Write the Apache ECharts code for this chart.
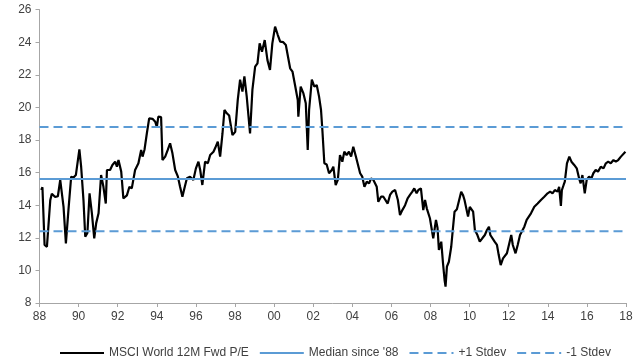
<!DOCTYPE html>
<html>
<head>
<meta charset="utf-8">
<script src="https://cdn.jsdelivr.net/npm/echarts@6/dist/echarts.min.js"></script>
<style>
html,body{margin:0;padding:0;background:#fff;}
#chart{width:640px;height:360px;}
</style>
</head>
<body>
<div id="chart"></div>
<script>
// Decimal year of each reading
var years = [
1988.09,1988.15,1988.26,1988.38,1988.55,1988.63,1988.80,1988.94,1989.06,1989.15,1989.23,1989.35,1989.48,1989.62,1989.74,1989.86,1989.96,
1990.04,1990.13,1990.25,1990.34,1990.45,1990.56,1990.68,1990.80,1990.90,1991.02,1991.15,1991.27,1991.39,1991.45,1991.61,1991.73,1991.87,1991.96,
1992.04,1992.18,1992.29,1992.47,1992.60,1992.72,1992.89,1993.06,1993.20,1993.27,1993.37,1993.49,1993.61,1993.78,1993.92,1994.00,1994.08,1994.22,
1994.29,1994.43,1994.56,1994.68,1994.80,1994.94,1995.08,1995.19,1995.31,1995.41,1995.54,1995.70,1995.87,1996.00,1996.13,1996.22,1996.33,1996.47,
1996.61,1996.73,1996.90,1996.98,1997.12,1997.24,1997.36,1997.46,1997.58,1997.70,1997.80,1997.87,1998.01,1998.14,1998.26,1998.38,1998.48,1998.60,
1998.77,1998.89,1999.03,1999.15,1999.26,1999.38,1999.52,1999.66,1999.79,1999.91,2000.05,2000.19,2000.31,2000.47,2000.60,2000.70,2000.82,2000.94,
2001.07,2001.21,2001.24,2001.36,2001.50,2001.62,2001.72,2001.79,2001.93,2002.06,2002.18,2002.30,2002.40,2002.47,2002.57,2002.69,2002.81,2002.95,
2003.03,2003.15,2003.26,2003.37,2003.49,2003.59,2003.71,2003.83,2003.94,2004.05,2004.18,2004.28,2004.40,2004.51,2004.62,2004.74,2004.86,2004.96,
2005.08,2005.16,2005.25,2005.33,2005.47,2005.59,2005.67,2005.81,2005.93,2006.05,2006.19,2006.33,2006.44,2006.56,2006.70,2006.83,2006.95,2007.07,
2007.17,2007.29,2007.38,2007.51,2007.63,2007.72,2007.81,2007.97,2008.14,2008.28,2008.36,2008.43,2008.55,2008.64,2008.72,2008.77,2008.84,2008.94,
2009.06,2009.14,2009.23,2009.35,2009.45,2009.57,2009.66,2009.74,2009.83,2009.92,2010.01,2010.09,2010.18,2010.27,2010.40,2010.52,2010.65,2010.78,
2010.89,2010.99,2011.06,2011.16,2011.28,2011.40,2011.49,2011.59,2011.71,2011.79,2011.91,2012.01,2012.13,2012.21,2012.35,2012.46,2012.58,2012.68,
2012.80,2012.92,2013.14,2013.31,2013.48,2013.65,2013.82,2013.99,2014.12,2014.24,2014.36,2014.50,2014.58,2014.67,2014.72,2014.81,2014.87,2014.98,
2015.10,2015.21,2015.35,2015.48,2015.60,2015.68,2015.77,2015.89,2015.99,2016.11,2016.23,2016.33,2016.45,2016.57,2016.71,2016.85,2016.97,2017.09,
2017.22,2017.36,2017.48,2017.60,2017.74,2017.83,2017.97
];
// MSCI World 12M forward P/E readings
var pe = [
14.93,15.10,11.56,11.45,14.30,14.70,14.50,14.55,15.55,15.45,13.90,11.66,13.70,15.75,15.70,15.85,15.85,
17.43,16.36,14.30,12.07,12.30,14.73,13.50,11.97,12.90,13.50,15.85,15.13,14.10,16.16,16.16,16.47,16.67,16.36,
16.77,16.06,14.42,14.60,15.13,15.03,16.16,16.57,17.39,16.98,17.40,18.40,19.33,19.30,19.12,18.80,19.43,19.40,
16.77,16.98,17.39,17.80,17.18,16.16,15.75,15.13,14.52,15.03,15.65,15.75,15.55,16.26,16.67,16.16,15.24,16.67,
16.57,17.08,17.28,17.49,17.90,16.98,18.40,19.84,19.64,19.50,19.53,18.30,18.50,20.45,21.70,20.97,21.90,20.66,
18.40,21.07,22.50,22.70,23.93,23.42,24.13,22.90,22.30,23.93,24.95,24.44,24.03,24.00,23.83,23.72,22.40,22.20,
21.37,20.45,19.43,21.27,20.86,20.25,17.39,19.84,21.70,21.27,21.37,20.66,19.84,18.60,16.57,16.50,15.96,16.16,
16.36,15.24,15.55,17.08,16.67,17.28,17.08,17.28,16.98,17.59,17.00,16.98,15.96,15.75,15.13,15.44,15.34,15.65,
15.55,15.65,15.13,14.21,14.52,14.52,14.42,14.10,14.63,14.83,14.93,14.32,13.40,13.70,14.00,14.42,14.63,14.83,
15.03,14.73,14.93,15.03,13.70,14.32,13.81,13.20,11.97,13.10,12.60,11.25,11.76,10.44,9.41,9.00,10.23,10.53,
11.45,12.48,13.60,13.75,13.70,14.83,14.63,14.32,14.32,13.30,13.90,13.81,13.60,12.48,12.17,11.76,11.97,12.17,
12.48,12.68,12.17,12.07,11.76,11.56,10.94,10.33,10.74,10.85,11.05,11.56,12.17,11.56,11.05,11.56,12.17,12.07,
12.68,13.10,13.50,13.90,14.10,14.32,14.52,14.73,14.83,14.73,14.93,14.83,15.13,13.95,14.93,15.24,15.44,16.57,
16.98,16.67,16.47,16.26,15.65,15.34,15.85,14.73,15.55,15.75,15.65,15.96,16.16,16.06,16.36,16.26,16.57,16.67,
16.57,16.77,16.67,16.77,16.98,17.08,17.28
];
var medianSince88 = 15.6;
var plusOneStdev = 18.8;
var minusOneStdev = 12.4;
var xStart = 1988, xEnd = 2018;
var yTicks = [8,10,12,14,16,18,20,22,24,26];

var seriesNames = ['MSCI World 12M Fwd P/E', "Median since '88", '+1 Stdev', '-1 Stdev'];

var peData = years.map(function(y,i){ return [y, pe[i]]; });
function flat(v){ return [[xStart, v],[xEnd, v]]; }

var blue = '#5B9BD5';
var chart = echarts.init(document.getElementById('chart'), null, {renderer:'canvas'});
chart.setOption({
  animation:false,
  backgroundColor:'#fff',
  textStyle:{fontFamily:'Liberation Sans, Arial, sans-serif'},
  grid:{left:39.5, right:14, top:9.6, bottom:57, containLabel:false},
  legend:{
    top:342, left:54,
    itemWidth:44, itemHeight:10, itemGap:10,
    itemStyle:{color:'transparent', borderColor:'transparent', borderWidth:0, opacity:0},
    textStyle:{fontSize:12, color:'#404040', fontFamily:'Liberation Sans, Arial, sans-serif'},
    data:seriesNames
  },
  xAxis:{
    type:'value', min:xStart, max:xEnd, interval:2,
    axisLine:{show:true, lineStyle:{color:'#a6a6a6', width:1}},
    axisTick:{show:true, length:4, lineStyle:{color:'#a6a6a6'}},
    splitLine:{show:false},
    axisLabel:{fontSize:12, color:'#404040', margin:8,
      formatter:function(v){ var s = String(Math.round(v)%100); return s.length<2?'0'+s:s; }}
  },
  yAxis:{
    type:'value', min:yTicks[0], max:yTicks[yTicks.length-1], interval:2,
    axisLine:{show:true, lineStyle:{color:'#a6a6a6', width:1}},
    axisTick:{show:true, length:4, lineStyle:{color:'#a6a6a6'}},
    splitLine:{show:false},
    axisLabel:{fontSize:12, color:'#404040', margin:8}
  },
  series:[
    {name:seriesNames[0], type:'line', data:peData, symbol:'none', showSymbol:false,
     lineStyle:{color:'#000', width:2.2}, itemStyle:{color:'#000'}, z:2},
    {name:seriesNames[1], type:'line', data:flat(medianSince88), symbol:'none', showSymbol:false,
     lineStyle:{color:blue, width:2}, itemStyle:{color:blue}, z:3},
    {name:seriesNames[2], type:'line', data:flat(plusOneStdev), symbol:'none', showSymbol:false,
     lineStyle:{color:blue, width:2, type:[9,5]}, itemStyle:{color:blue}, z:3},
    {name:seriesNames[3], type:'line', data:flat(minusOneStdev), symbol:'none', showSymbol:false,
     lineStyle:{color:blue, width:2, type:[9,5]}, itemStyle:{color:blue}, z:3}
  ]
});
</script>
</body>
</html>
